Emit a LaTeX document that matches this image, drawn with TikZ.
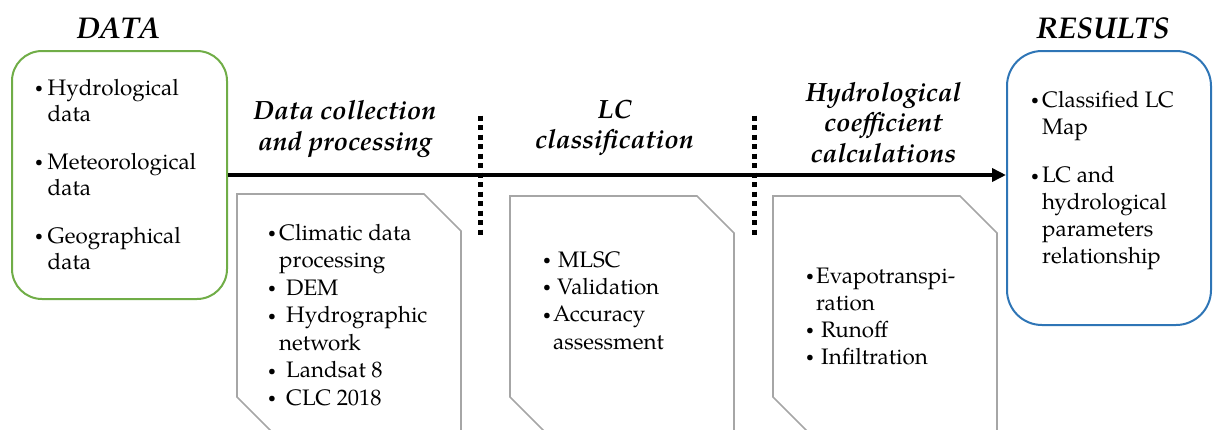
\documentclass[tikz,border=0pt]{standalone}
\usepackage{fontspec}
\setmainfont{texgyrepagella}[Extension=.otf, UprightFont=*-regular, ItalicFont=*-italic, BoldFont=*-bold, BoldItalicFont=*-bolditalic]
\usetikzlibrary{arrows.meta}

\definecolor{datagreen}{HTML}{70AD47}
\definecolor{resultblue}{HTML}{2E75B6}
\definecolor{docgray}{HTML}{A6A6A6}

% small raised bullet followed by a fixed gap before the item text
\newcommand{\bulletbox}[1]{\makebox[#1pt][l]{\raisebox{2.6pt}{\scalebox{0.62}{•}}}}

\tikzset{
  box/.style={draw, line width=2pt, inner sep=0pt},
  docshape/.style={draw=docgray, line width=1.6pt, line join=miter},
  body/.style={anchor=north west, inner sep=0pt, align=left,
    font=\fontsize{22.4}{#1}\selectfont},
  head/.style={anchor=north, inner sep=0pt, align=center,
    font=\fontsize{26.4}{30.5}\selectfont\bfseries\itshape},
  title/.style={anchor=base, inner sep=0pt,
    font=\fontsize{30}{36}\selectfont\bfseries\itshape},
  dotline/.style={line width=5pt, dash pattern=on 5pt off 4.5pt},
  flow/.style={line width=4.5pt, -{Triangle[length=14pt,width=13pt]}}
}

\begin{document}
\begin{tikzpicture}[x=1pt,y=-1pt]
\useasboundingbox (0,0) rectangle (1213,429);
\clip (0,0) rectangle (1213,429);

% input and output boxes
\node[box, draw=datagreen, rounded corners=30pt,
      minimum width=215pt, minimum height=248pt] (data) at (119.5,175) {};
\node[box, draw=resultblue, rounded corners=35pt,
      minimum width=204pt, minimum height=274pt] (results) at (1109,188) {};

% titles
\node[title] (tdata) at (118.5,38) {DATA};
\node[title] (tresults) at (1103,38) {RESULTS};

% stage headings
\node[head] (h1) at (345,99.5) {\rule{0pt}{20pt}Data collection\\and processing};
\node[head] (h2) at (614.5,98) {\rule{0pt}{20pt}LC\\classification};
\node[head] (h3) at (883.5,81) {\rule{0pt}{20pt}Hydrological\\coefficient\\calculations};

% separators between stages
\coordinate (sA1) at (480,115.5);
\coordinate (sA2) at (480,234.5);
\coordinate (sB1) at (754,115.5);
\coordinate (sB2) at (754,234.5);
\draw[dotline] (sA1) -- (sA2);
\draw[dotline] (sB1) -- (sB2);

% main flow
\draw[flow] (data.east) -- (data.east -| results.west);

% stage sheets with snipped corners
\draw[docshape] (237,194) -- (424,194) -- (461,231) -- (461,450) -- (290,450) -- (237,397) -- cycle;
\draw[docshape] (510,196) -- (697,196) -- (734,233) -- (734,450) -- (563,450) -- (510,397) -- cycle;
\draw[docshape] (773,196) -- (960,196) -- (997,233) -- (997,450) -- (826,450) -- (773,397) -- cycle;

% box contents
\node[body=26.5] (datalist) at (35,75) {\rule{0pt}{20pt}\bulletbox{12.5}Hydrological\\
  \hspace*{12.5pt}data\\[21pt]
  \bulletbox{12.5}Meteorological\\
  \hspace*{12.5pt}data\\[21pt]
  \bulletbox{12.5}Geographical\\
  \hspace*{12.5pt}data};

\node[body=27.5] (list1) at (268,220) {\rule{0pt}{20pt}\bulletbox{11}Climatic data\\
  \hspace*{11pt}processing\\
  \bulletbox{18}DEM\\
  \bulletbox{18}Hydrographic\\
  \hspace*{11pt}network\\
  \bulletbox{18}Landsat 8\\
  \bulletbox{18}CLC 2018};

\node[body=27.3] (list2) at (543,247) {\rule{0pt}{20pt}\bulletbox{15}MLSC\\
  \bulletbox{14}Validation\\
  \bulletbox{10}Accuracy\\
  \hspace*{10pt}assessment};

\node[body=27] (list3) at (806,263) {\rule{0pt}{20pt}\bulletbox{10}Evapotranspi-\\
  \hspace*{10pt}ration\\
  \bulletbox{15}Runoff\\
  \bulletbox{15}Infiltration};

\node[body=26.8] (reslist) at (1031,87) {\rule{0pt}{20pt}\bulletbox{11}Classified LC\\
  \hspace*{11pt}Map\\[21.8pt]
  \bulletbox{11}LC and\\
  \hspace*{11pt}hydrological\\
  \hspace*{11pt}parameters\\
  \hspace*{11pt}relationship};
\end{tikzpicture}
\end{document}
